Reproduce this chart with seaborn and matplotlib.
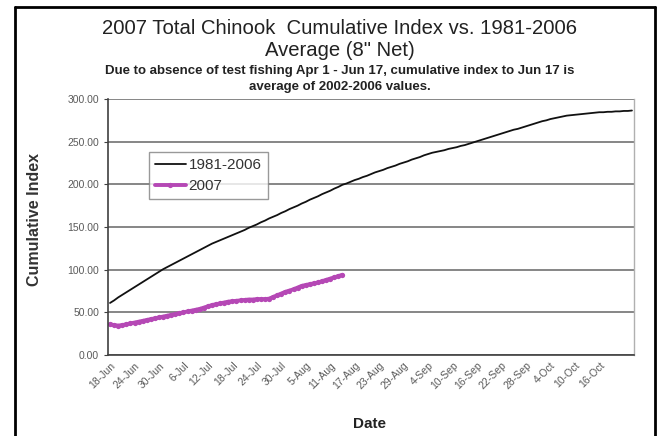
import matplotlib
matplotlib.use("Agg")
import matplotlib.pyplot as plt
from matplotlib.lines import Line2D
from matplotlib.ticker import MultipleLocator, FixedLocator, FuncFormatter
import seaborn as sns
import pandas as pd
import numpy as np

# ---------------- data ----------------
start_date = "2007-06-18"
n_days = 129  # 18-Jun .. 24-Oct

avg_1981_2006 = [
    61, 64, 67.5, 70.5, 73.5, 76.5, 79.5, 82.5, 85.5, 88.5,
    91.5, 94.5, 97.5, 100.5, 103, 105.5, 108, 110.5, 113, 115.5,
    118, 120.5, 123, 125.5, 128, 130.5, 132.5, 134.5, 136.5, 138.5,
    140.5, 142.5, 144.5, 146.5, 149, 151, 153, 155.5, 157.5, 160,
    162, 164, 166.5, 168.5, 171, 173, 175, 177.5, 179.5, 182,
    184, 186, 188.5, 190.5, 192.5, 195, 197, 199.5, 201, 203,
    205, 206.5, 208.5, 210, 212, 214, 215.5, 217, 219, 220.5,
    222, 224, 225.5, 227, 229, 230.5, 232, 234, 235.5, 237,
    238, 239, 240, 241.5, 242.5, 243.5, 245, 246, 247.5, 249,
    250.5, 252, 253.5, 255, 256.5, 258, 259.5, 261, 262.5, 264,
    265, 266.5, 268, 269.5, 271, 272.5, 274, 275, 276.5, 277.5,
    278.5, 279.5, 280.5, 281, 281.5, 282, 282.5, 283, 283.5, 284,
    284.5, 284.5, 285, 285, 285.5, 285.5, 286, 286, 286.5,
]

idx_2007 = [
    36, 35, 34.5, 35, 36, 37, 38, 39, 40, 41,
    42, 43, 44, 45, 46, 47, 48, 49, 50, 51,
    52, 53, 54, 55.5, 57, 58.5, 59.5, 60.5, 61.5, 62.5,
    63, 63.5, 64, 64.5, 65, 65, 65.5, 65.5, 65.5, 66,
    68, 70, 72, 74, 75.5, 77, 79, 81, 82, 83,
    84, 85, 86.5, 88, 89.5, 91, 92.5, 94,
]

tick_labels = ["18-Jun", "24-Jun", "30-Jun", "6-Jul", "12-Jul", "18-Jul",
               "24-Jul", "30-Jul", "5-Aug", "11-Aug", "17-Aug", "23-Aug",
               "29-Aug", "4-Sep", "10-Sep", "16-Sep", "22-Sep", "28-Sep",
               "4-Oct", "10-Oct", "16-Oct"]
tick_every = 6

series_names = ["1981-2006", "2007"]
series_colors = ["#111111", "#B548B5"]

# ---------------- frames ----------------
dates = pd.date_range(start_date, periods=n_days, freq="D")
df_avg = pd.DataFrame({"day": np.arange(n_days), "value": avg_1981_2006,
                       "date": dates})
df_07 = pd.DataFrame({"day": np.arange(len(idx_2007)), "value": idx_2007,
                      "date": dates[:len(idx_2007)]})

# ---------------- plot ----------------
sns.set_style("white")
plt.rcParams["font.family"] = ["Liberation Sans", "DejaVu Sans"]

fig = plt.figure(figsize=(6.65, 4.36), dpi=100)
ax = fig.add_axes([108 / 665, 1 - 355 / 436, (634 - 108) / 665, (355 - 99) / 436])

sns.lineplot(data=df_avg, x="day", y="value", ax=ax, color=series_colors[0],
             lw=1.3, label=series_names[0])
sns.lineplot(data=df_07, x="day", y="value", ax=ax, color=series_colors[1],
             lw=2.8, marker="o", markersize=3.8, markeredgewidth=0,
             label=series_names[1])

ax.set_xlim(-0.5, n_days - 0.5)
ax.set_ylim(0, 300)
ax.yaxis.set_major_locator(MultipleLocator(50))
ax.yaxis.set_major_formatter(FuncFormatter(lambda v, p: f"{v:.2f}"))
ax.yaxis.grid(True, color="#666666", lw=1.1)
ax.xaxis.grid(False)
ax.set_axisbelow(True)

ax.xaxis.set_major_locator(FixedLocator(np.arange(0, n_days, tick_every)[:len(tick_labels)]))
ax.set_xticklabels(tick_labels, rotation=45, ha="right", rotation_mode="anchor")
ax.xaxis.set_minor_locator(MultipleLocator(1))
ax.tick_params(axis="x", which="both", direction="inout", length=4, width=0.8,
               color="#404040", labelsize=7.5, labelcolor="#5a5a5a", pad=2)
ax.tick_params(axis="y", which="major", direction="out", length=3, width=0.8,
               color="#404040", labelsize=7.5, labelcolor="#5a5a5a", left=True)

for s in ["left", "bottom"]:
    ax.spines[s].set_color("#404040")
    ax.spines[s].set_linewidth(1.2)
ax.spines["right"].set_color("#b0b0b0")
ax.spines["right"].set_linewidth(1.0)
ax.spines["top"].set_visible(False)

ax.set_xlabel("")
ax.set_ylabel("")
fig.text(35 / 665, 1 - 220 / 436, "Cumulative Index", rotation=90, ha="center",
         va="center", fontsize=11.5, fontweight="bold", color="#333333")
fig.text(369 / 665, 1 - 424 / 436, "Date", ha="center", va="center",
         fontsize=11, fontweight="bold", color="#222222")

fig.text(340 / 665, 1 - 29 / 436, "2007 Total Chinook  Cumulative Index vs. 1981-2006",
         ha="center", va="center", fontsize=14.6, color="#222222")
fig.text(340 / 665, 1 - 51 / 436, "Average (8\" Net)", ha="center", va="center",
         fontsize=14.6, color="#222222")
fig.text(340 / 665, 1 - 71 / 436,
         "Due to absence of test fishing Apr 1 - Jun 17, cumulative index to Jun 17 is",
         ha="center", va="center", fontsize=9.5, fontweight="bold", color="#222222")
fig.text(340 / 665, 1 - 87 / 436, "average of 2002-2006 values.", ha="center",
         va="center", fontsize=9.5, fontweight="bold", color="#222222")

leg = ax.legend(loc="upper left", bbox_to_anchor=(149 / 665, 1 - 152 / 436),
                bbox_transform=fig.transFigure, frameon=True, fancybox=False,
                fontsize=11, handlelength=2.0, borderpad=0.4,
                labelspacing=0.45, handletextpad=0.2, borderaxespad=0)
leg.get_frame().set_edgecolor("#808080")
leg.get_frame().set_linewidth(1.0)
for t in leg.get_texts():
    t.set_color("#333333")

# outer black frame
for (x0, y0, x1, y1) in [(15, 7, 655, 7), (15, 7, 15, 436), (655, 7, 655, 436)]:
    fig.add_artist(Line2D([x0 / 665, x1 / 665], [1 - y0 / 436, 1 - y1 / 436],
                          transform=fig.transFigure, color="black", lw=2))

fig.savefig("out.png", dpi=100)
